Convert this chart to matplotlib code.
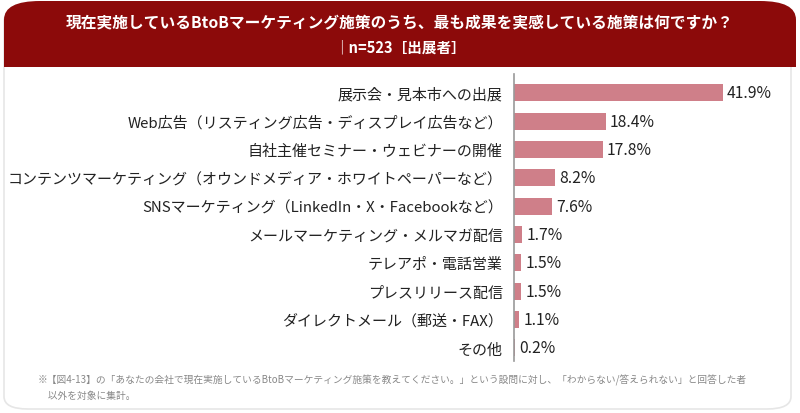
import matplotlib
matplotlib.use("Agg")
import matplotlib.pyplot as plt
from matplotlib.patches import FancyBboxPatch, Rectangle

plt.rcParams['font.family'] = ['Noto Sans CJK JP', 'DejaVu Sans']

TITLE = "現在実施しているBtoBマーケティング施策のうち、最も成果を実感している施策は何ですか？"
SUBTITLE = "｜n=523［出展者］"
CATEGORIES = [
    "展示会・見本市への出展",
    "Web広告（リスティング広告・ディスプレイ広告など）",
    "自社主催セミナー・ウェビナーの開催",
    "コンテンツマーケティング（オウンドメディア・ホワイトペーパーなど）",
    "SNSマーケティング（LinkedIn・X・Facebookなど）",
    "メールマーケティング・メルマガ配信",
    "テレアポ・電話営業",
    "プレスリリース配信",
    "ダイレクトメール（郵送・FAX）",
    "その他",
]
VALUES = [41.9, 18.4, 17.8, 8.2, 7.6, 1.7, 1.5, 1.5, 1.1, 0.2]
NOTE = ("※【図4-13】の「あなたの会社で現在実施しているBtoBマーケティング施策を教えてください。」"
        "という設問に対し、「わからない/答えられない」と回答した者\n　以外を対象に集計。")

BAR_COLOR = "#CF7F89"
HEAD_COLOR = "#8C0A0A"

W, H = 800, 414
fig = plt.figure(figsize=(W / 100, H / 100), dpi=100)

# card background with light border
card = FancyBboxPatch((4 / W, 4 / H), 787 / W, 400 / H,
                      boxstyle="round,pad=0,rounding_size=0.03",
                      transform=fig.transFigure, facecolor="white",
                      edgecolor="#E6E6E6", linewidth=1.2, zorder=-3)
fig.patches.append(card)

# dark red header: rounded top corners, square bottom
head = FancyBboxPatch((4 / W, (H - 68) / H), 792 / W, 66 / H,
                      boxstyle="round,pad=0,rounding_size=0.045",
                      transform=fig.transFigure, facecolor=HEAD_COLOR,
                      edgecolor="none", zorder=-2)
fig.patches.append(head)
fig.patches.append(Rectangle((4 / W, (H - 68) / H), 792 / W, 30 / H,
                             transform=fig.transFigure, facecolor=HEAD_COLOR,
                             edgecolor="none", zorder=-2))
fig.text(400 / W, 1 - 23 / H, TITLE, color="white", fontsize=11.3,
         fontweight="bold", ha="center", va="center")
fig.text(400 / W, 1 - 47 / H, SUBTITLE, color="white", fontsize=10.5,
         fontweight="bold", ha="center", va="center")

ax = fig.add_axes([514 / W, 1 - 362 / H, 276 / W, 287 / H])
ax.set_facecolor("none")
ax.set_zorder(2)
y = list(range(len(CATEGORIES)))
ax.barh(y, VALUES, height=0.6, color=BAR_COLOR)
for yi, v in zip(y, VALUES):
    ax.text(v + 0.8, yi, f"{v}%", va="center", ha="left", fontsize=11.3,
            color="#222222")
ax.set_xlim(0, 55.3)
ax.set_ylim(9.46, -0.67)
ax.set_yticks(y)
ax.set_yticklabels(CATEGORIES, fontsize=10.8, color="#222222")
ax.tick_params(axis="y", length=0, pad=8)
ax.set_xticks([])
for s in ["top", "right", "bottom"]:
    ax.spines[s].set_visible(False)
ax.spines["left"].set_color("#999999")
ax.spines["left"].set_linewidth(1.2)

fig.text(38 / W, 1 - 388 / H, NOTE, color="#888888", fontsize=7.0,
         ha="left", va="center", linespacing=1.6)

fig.savefig("out.png", dpi=100)
